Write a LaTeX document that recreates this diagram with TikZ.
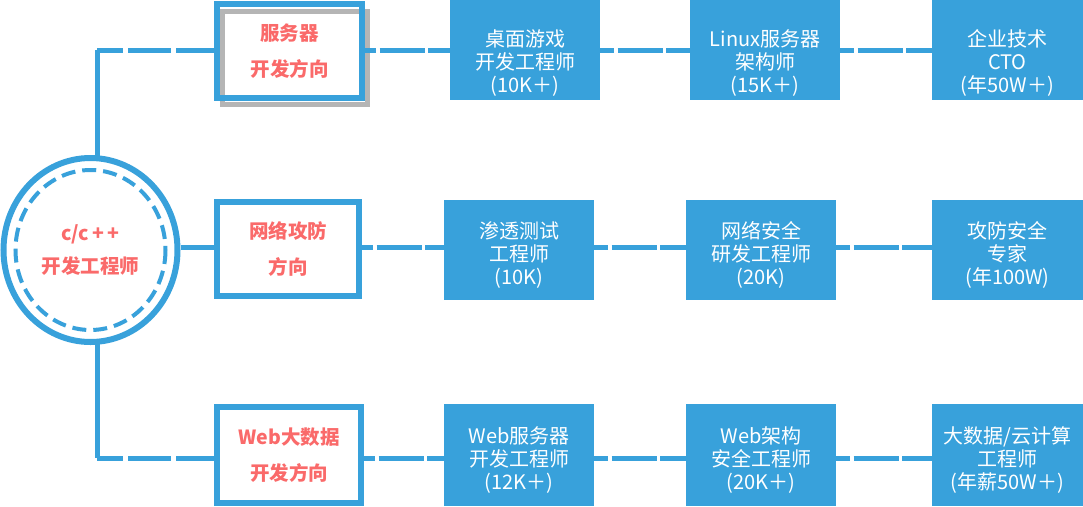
\documentclass[tikz,border=0pt]{standalone}
\usepackage{fontspec}
\setmainfont{Noto Sans CJK SC}
\usetikzlibrary{shapes.geometric}
\definecolor{bl}{HTML}{38A1DB}
\definecolor{sal}{HTML}{FA6A6A}
\definecolor{shd}{HTML}{B5B5B5}
\begin{document}
\begin{tikzpicture}[x=1pt,y=-1pt,
  bluebox/.style={fill=bl, minimum width=150pt, minimum height=100pt, inner sep=0pt},
  btext/.style={text=white, align=center, inner sep=0pt, font=\fontsize{20}{23}\selectfont, yshift=-5pt},
  btextA/.style={btext, yshift=-8pt},
  whitebox/.style={fill=white, minimum width=145pt, minimum height=93pt, inner sep=0pt, align=center, text=sal, font=\bfseries\fontsize{19.5}{36}\selectfont},
  boxline/.style={draw=bl, line width=6pt},
  solidline/.style={draw=bl, line width=5pt},
  dashline/.style={draw=bl, line width=5pt, dash pattern=on 45pt off 3.5pt, dash phase=31pt},
  dashlineL/.style={draw=bl, line width=5pt, dash pattern=on 43pt off 5pt, dash phase=17pt},
]
\useasboundingbox (0,0) rectangle (1083,506);

% coordinates of the left trunk
\coordinate (tl) at (97,50);
\coordinate (bt) at (97,458);

% white direction boxes
\node[whitebox] (w1) at (289.5,51) {服务器\\开发方向};
\node[whitebox, minimum width=142pt] (w2) at (288,249) {网络攻防\\方向};
\node[whitebox, minimum width=144pt, minimum height=96pt] (w3) at (289,455) {Web大数据\\开发方向};

% blue boxes
\node[bluebox, label={[btextA]center:桌面游戏\\开发工程师\\(10K＋)}] (b11) at (525,50) {};
\node[bluebox, label={[btextA]center:Linux服务器\\架构师\\(15K＋)}] (b12) at (765,50) {};
\node[bluebox, minimum width=151pt, label={[btextA]center:企业技术\\CTO\\(年50W＋)}] (b13) at (1007.5,50) {};
\node[bluebox, label={[btext]center:渗透测试\\工程师\\(10K)}] (b21) at (519,250) {};
\node[bluebox, label={[btext]center:网络安全\\研发工程师\\(20K)}] (b22) at (761,250) {};
\node[bluebox, minimum width=151pt, label={[btext]center:攻防安全\\专家\\(年100W)}] (b23) at (1007.5,250) {};
\node[bluebox, minimum height=102pt, label={[btext]center:Web服务器\\开发工程师\\(12K＋)}] (b31) at (519,455) {};
\node[bluebox, minimum height=102pt, label={[btext]center:Web架构\\安全工程师\\(20K＋)}] (b32) at (761,455) {};
\node[bluebox, minimum width=151pt, minimum height=102pt, label={[btext]center:大数据/云计算\\工程师\\(年薪50W＋)}] (b33) at (1007.5,455) {};

% trunk and branches
\draw[solidline] (tl) -- (bt);
\draw[dashlineL] (tl) -- (w1.west |- tl);
\draw[dashlineL] (bt) -- (w3.west |- bt);

% circle
\node[ellipse, draw=bl, line width=6pt, fill=white, minimum width=174pt, minimum height=184pt, inner sep=0pt,
      align=center, text=sal, font=\bfseries\fontsize{19.5}{33}\selectfont] (circ) at (90.5,250)
      {c/c\,+\,+\\开发工程师};
\draw[draw=bl, line width=4pt, dash pattern=on 14pt off 7pt] (circ.center) ellipse [x radius=75, y radius=80];
\draw[solidline] (circ.east |- 0,247) -- (w2.west |- 0,247);

% shadow and border of first box
\draw[draw=shd, line width=5pt] ([shift={(5.5,7)}]w1.north west) rectangle ([shift={(5.5,7)}]w1.south east);
\draw[boxline] (w1.north west) rectangle (w1.south east);
\draw[boxline] (w2.north west) rectangle (w2.south east);
\draw[boxline] (w3.north west) rectangle (w3.south east);

% row connectors
\draw[dashline] (w1.east |- b11) -- (b11.west);
\draw[dashline] (b11.east) -- (b12.west);
\draw[dashline] (b12.east) -- (b13.west);
\draw[dashline] (w2.east |- 0,247) -- (b21.west |- 0,247);
\draw[dashline] (b21.east |- 0,247) -- (b22.west |- 0,247);
\draw[dashline] (b22.east |- 0,247) -- (b23.west |- 0,247);
\draw[dashline] (w3.east |- bt) -- (b31.west |- bt);
\draw[dashline] (b31.east |- bt) -- (b32.west |- bt);
\draw[dashline] (b32.east |- bt) -- (b33.west |- bt);
\end{tikzpicture}
\end{document}
